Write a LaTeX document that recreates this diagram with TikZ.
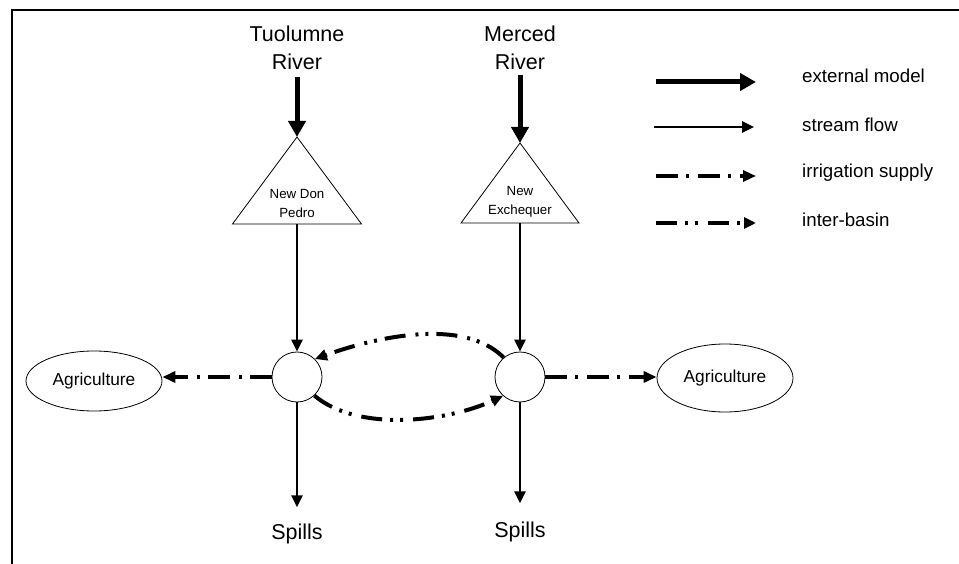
\documentclass[tikz,border=0pt]{standalone}
\usepackage{fontspec}
\setmainfont{Liberation Sans}
\usetikzlibrary{positioning,shapes,arrows.meta}

\begin{document}
\begin{tikzpicture}[x=1pt, y=1pt]
    \tikzset{
        junction/.style = {circle, draw=black, line width=0.8pt, minimum size=50pt, inner sep=0pt},
        demand/.style = {ellipse, draw=black, line width=0.8pt, minimum width=136pt, minimum height=60pt, inner sep=0pt, font=\fontsize{17.3}{20}\selectfont},
        bigtext/.style = {inner sep=0pt, align=center, font=\fontsize{21.5}{28}\selectfont},
        damtext/.style = {inner sep=0pt, align=center, font=\fontsize{13.3}{18.5}\selectfont},
        keytext/.style = {inner sep=0pt, anchor=base west, font=\fontsize{18.7}{22}\selectfont},
        dam/.style = {line width=0.8pt},
        inflow/.style = {line width=5pt, -{Triangle[length=16pt,width=17pt]}},
        stream/.style = {line width=2.5pt, -{Triangle[length=12pt,width=11pt]}},
        supply/.style = {line width=4pt, dash pattern=on 22pt off 8pt on 3pt off 9pt, -{Triangle[length=13pt,width=11pt]}},
        basin/.style = {line width=4pt, dash pattern=on 21pt off 8pt on 3pt off 7pt on 3pt off 10pt, -{Triangle[length=12pt,width=11pt]}}
    }
    \useasboundingbox (0,0) rectangle (959,-564);
    \draw [line width=2pt] (12,-564) -- (12,-10) -- (959,-10);

    % rivers and reservoirs
    \node (tuol) [bigtext, anchor=north] at (297,-25.5) {Tuolumne\\River};
    \node (merc) [bigtext, anchor=north] at (520,-25.5) {Merced\\River};

    \coordinate (ndpTop) at (297,-137);
    \coordinate (ndpBase) at (297,-224);
    \draw [dam] (ndpTop) -- (232.5,-224) -- (361.5,-224) -- cycle;
    \node (ndp) [damtext, anchor=north] at (297,-189.5) {New Don\\Pedro};

    \coordinate (nexTop) at (520,-143);
    \coordinate (nexBase) at (520,-223);
    \draw [dam] (nexTop) -- (461,-223) -- (579,-223) -- cycle;
    \node (nex) [damtext, anchor=north] at (520,-186.5) {New\\Exchequer};

    % junctions and demands
    \node (jl) [junction] at (297,-377) {};
    \node (jr) [junction] at (520,-377) {};
    \node (agl) [demand] at (94,-381) {Agriculture};
    \node (agr) [demand, minimum height=68pt] at (725,-378) {Agriculture};
    \node (spl) [bigtext, below=121pt of jl] {Spills};
    \node (spr) [bigtext, below=119pt of jr] {Spills};

    \draw [inflow, shorten <=7pt] (tuol) -- (ndpTop);
    \draw [inflow, shorten <=5pt] (merc) -- (nexTop);
    \draw [stream] (ndpBase) -- (jl);
    \draw [stream] (nexBase) -- (jr);
    \draw [stream, shorten >=16pt] (jl) -- (spl);
    \draw [stream, shorten >=18pt] (jr) -- (spr);
    \draw [supply] (jl.west) -- (jl.west -| agl.east);
    \draw [supply] (jr.east) -- (jr.east -| agr.west);
    \draw [basin] (jr.130) to[out=135, in=20, looseness=0.8] (jl.45);
    \draw [basin] (jl.-47) to[out=-40, in=-155, looseness=0.8] (jr.-132);

    % legend
    \coordinate (k1s) at (656,-82);
    \coordinate (k1e) at (756,-82);
    \coordinate (k2s) at (654,-127);
    \coordinate (k2e) at (754,-127);
    \coordinate (k3s) at (656,-176);
    \coordinate (k3e) at (756,-176);
    \coordinate (k4s) at (656,-223);
    \coordinate (k4e) at (756,-223);
    \draw [inflow] (k1s) -- (k1e);
    \draw [stream] (k2s) -- (k2e);
    \draw [supply] (k3s) -- (k3e);
    \draw [basin] (k4s) -- (k4e);
    \node (k1) [keytext] at (802,-83) {external model};
    \node (k2) [keytext] at (802,-132) {stream flow};
    \node (k3) [keytext] at (802,-178) {irrigation supply};
    \node (k4) [keytext] at (802,-227) {inter-basin};
\end{tikzpicture}
\end{document}
